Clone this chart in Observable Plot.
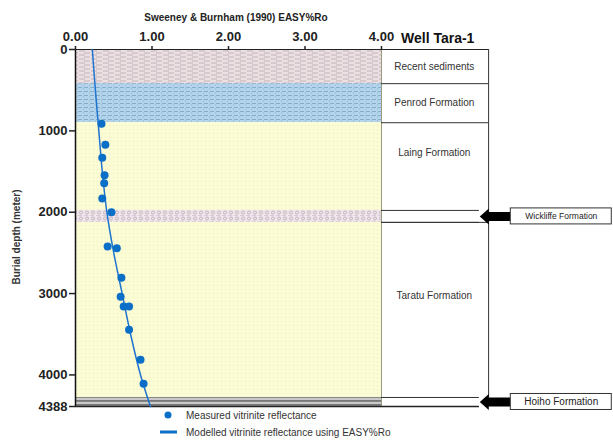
<!DOCTYPE html>
<html>
<head>
<meta charset="utf-8">
<script src="https://cdn.jsdelivr.net/npm/d3@7"></script>
<script src="https://cdn.jsdelivr.net/npm/@observablehq/plot@0.6"></script>
<style>
  body { margin: 0; background: #fff; font-family: "Liberation Sans", Arial, sans-serif; }
  #chart { width: 613px; height: 442px; }
</style>
</head>
<body>
<div id="chart"></div>
<script>
// ---- data ----
const reflectanceTicks = [0, 1, 2, 3, 4];
const depthTicks = [0, 1000, 2000, 3000, 4000, 4388];

const measuredRo    = [0.34, 0.39, 0.35, 0.38, 0.375, 0.35, 0.47, 0.42, 0.54, 0.60, 0.59, 0.63, 0.70, 0.70, 0.85, 0.89];
const measuredDepth = [913, 1171, 1331, 1545, 1643, 1831, 2000, 2421, 2442, 2806, 3040, 3159, 3159, 3445, 3814, 4109];

const modelRo    = [0.22, 0.26, 0.305, 0.35, 0.41, 0.50, 0.61, 0.72, 0.85, 0.98];
const modelDepth = [0, 500, 1000, 1500, 2000, 2500, 3000, 3500, 4000, 4388];

const formationNames = ["Recent sediments", "Penrod Formation", "Laing Formation", "Wickliffe Formation", "Taratu Formation", "Hoiho Formation"];
const formationTop   = [0, 420, 900, 1978, 2125, 4277];
const formationBase  = [420, 900, 1978, 2125, 4277, 4388];
const formationLith  = ["recent", "penrod", "sand", "wickliffe", "sand", "hoiho"];
const formationCallout = [false, false, false, true, false, true];

// ---- tables built from the arrays ----
const measured = measuredRo.map((ro, i) => ({ro, depth: measuredDepth[i]}));
const model = modelRo.map((ro, i) => ({ro, depth: modelDepth[i]}));
const labelFrac = {"Laing Formation": 0.34, "Taratu Formation": 0.42};
const formations = formationNames.map((name, i) => ({
  name, top: formationTop[i], base: formationBase[i], lith: formationLith[i],
  callout: formationCallout[i],
  mid: (formationTop[i] + formationBase[i]) / 2,
  labelDepth: formationTop[i] + (formationBase[i] - formationTop[i]) * (labelFrac[name] ?? 0.5)
}));
const columnFormations = formations.filter(d => !d.callout);
const calloutFormations = formations.filter(d => d.callout);

// ---- layout (in x-axis units, right of the %Ro domain) ----
const COL_LABEL_X = 4.69, COL_RIGHT = 5.40, ARROW_TIP = 5.28, BOX_L = 5.69, BOX_R = 7.01;

const blockArrow = {
  draw(context, l) {
    const hw = 8, sw = 4.5, hl = 9;
    context.moveTo(-sw, 0);
    context.lineTo(-sw, -(l - hl));
    context.lineTo(-hw, -(l - hl));
    context.lineTo(0, -l);
    context.lineTo(hw, -(l - hl));
    context.lineTo(sw, -(l - hl));
    context.lineTo(sw, 0);
    context.closePath();
  }
};

const plot = Plot.plot({
  width: 613,
  height: 442,
  marginTop: 49, marginLeft: 75, marginRight: 232, marginBottom: 36,
  style: {fontFamily: "'Liberation Sans', Arial, sans-serif", background: "white", color: "#222"},
  x: {domain: [0, 4], range: [75, 381]},
  y: {domain: [0, 4388], range: [49, 406]},
  color: {type: "identity"},
  marks: [
    // lithology bands in the plot area
    Plot.rect(formations, {x1: 0, x2: 4, y1: "top", y2: "base", fill: d => `url(#pat-${d.lith})`}),
    Plot.ruleX([4], {y1: 0, y2: 4388, stroke: "#9a9a80", strokeWidth: 1}),
    // formation column
    Plot.ruleY(columnFormations, {y: "top", x1: 4, x2: COL_RIGHT, stroke: "#333", strokeWidth: 1}),
    Plot.ruleY(calloutFormations, {y: "top", x1: 4, x2: ARROW_TIP, stroke: "#333", strokeWidth: 1}),
    Plot.ruleY(calloutFormations, {y: "base", x1: 4, x2: ARROW_TIP, stroke: "#333", strokeWidth: 1}),
    Plot.ruleX([COL_RIGHT], {y1: 0, y2: formationTop[5], stroke: "#333", strokeWidth: 1}),
    Plot.text(columnFormations, {x: COL_LABEL_X, y: "labelDepth", text: "name", fontSize: 10, fill: "#333"}),
    // callout arrows and boxes
    Plot.vector(calloutFormations, {x: BOX_L, y: "mid", rotate: 270, length: 31, anchor: "start", shape: blockArrow, fill: "black", stroke: "none"}),
    Plot.rect(calloutFormations, {x1: BOX_L, x2: BOX_R, y1: "mid", y2: "mid", insetTop: -8, insetBottom: -8, fill: "white", stroke: "#333", strokeWidth: 1}),
    Plot.text(calloutFormations, {x: (BOX_L + BOX_R) / 2, y: "mid", text: "name", fontSize: d => d.name.startsWith("Hoiho") ? 10 : 8.5, fill: "#222"}),
    // frame lines
    Plot.ruleY([0], {x1: 0, x2: COL_RIGHT, stroke: "#222", strokeWidth: 1.2}),
    Plot.ruleY([4388], {x1: 0, x2: ARROW_TIP, stroke: "#222", strokeWidth: 1.5}),
    Plot.ruleX([0], {y1: 0, y2: 4388, stroke: "#111", strokeWidth: 1.5}),
    // axes
    Plot.axisX({anchor: "top", ticks: reflectanceTicks, tickFormat: d => d.toFixed(2), tickSize: 4, tickPadding: 5, fontSize: 13, fontWeight: "bold", label: null, strokeWidth: 1.5}),
    Plot.axisY({anchor: "left", ticks: depthTicks, tickFormat: d => String(d), tickSize: 6, tickPadding: 2, fontSize: 13, fontWeight: "bold", label: null, strokeWidth: 1.5}),
    // model and measurements
    Plot.line(model, {x: "ro", y: "depth", stroke: "#1f74cf", strokeWidth: 1.5, curve: "catmull-rom"}),
    Plot.dot(measured, {x: "ro", y: "depth", r: 4, fill: "#0b6fc7", stroke: "none"})
  ]
});

// ---- patterns ----
const svg = d3.select(plot);
const defs = svg.insert("defs", ":first-child");
function pattern(id, w, h, build) {
  const p = defs.append("pattern").attr("id", id).attr("width", w).attr("height", h).attr("patternUnits", "userSpaceOnUse");
  build(p);
}
pattern("pat-recent", 12, 4, p => {
  p.append("rect").attr("width", 12).attr("height", 4).attr("fill", "#eae0e2");
  p.append("path").attr("d", "M0 1h6M7 3h5M0 3h1").attr("stroke", "#c5b3b8").attr("stroke-width", 1.1);
});
pattern("pat-penrod", 6, 4, p => {
  p.append("rect").attr("width", 6).attr("height", 4).attr("fill", "#b3d4ea");
  p.append("path").attr("d", "M0 3.5h4").attr("stroke", "#86aecb").attr("stroke-width", 1);
  p.append("path").attr("d", "M5.5 0v2").attr("stroke", "#9bbfd8").attr("stroke-width", 0.8);
});
pattern("pat-sand", 4, 4, p => {
  p.append("rect").attr("width", 4).attr("height", 4).attr("fill", "#fbfbd4");
  p.append("rect").attr("x", 1).attr("y", 1).attr("width", 1).attr("height", 1).attr("fill", "#ecebc0");
});
pattern("pat-wickliffe", 6, 6, p => {
  p.append("rect").attr("width", 6).attr("height", 6).attr("fill", "#eee5ea");
  p.append("circle").attr("cx", 3).attr("cy", 2.5).attr("r", 1.5).attr("fill", "none").attr("stroke", "#b5a1ad").attr("stroke-width", 0.7);
  p.append("path").attr("d", "M0 5.5h4").attr("stroke", "#d3c2cb").attr("stroke-width", 0.8);
});
pattern("pat-hoiho", 4, 4, p => {
  p.append("rect").attr("width", 4).attr("height", 4).attr("fill", "#c9c9c9");
  p.append("rect").attr("width", 4).attr("height", 1.8).attr("fill", "#777");
});

// ---- titles, axis title, legend ----
const F = "'Liberation Sans', Arial, sans-serif";
svg.append("text").attr("x", 236).attr("y", 21).attr("text-anchor", "middle")
  .attr("font-family", F).attr("font-size", 10).attr("font-weight", "bold").attr("fill", "#222")
  .text("Sweeney & Burnham (1990) EASY%Ro");
svg.append("text").attr("x", 401).attr("y", 43).attr("text-anchor", "start")
  .attr("font-family", F).attr("font-size", 14).attr("font-weight", "bold").attr("fill", "#111")
  .text("Well Tara-1");
svg.append("text").attr("transform", "translate(20,237) rotate(-90)").attr("text-anchor", "middle")
  .attr("font-family", F).attr("font-size", 10).attr("font-weight", "bold").attr("fill", "#333")
  .text("Burial depth (meter)");
const lg = svg.append("g").attr("font-family", F).attr("font-size", 10).attr("fill", "#333").attr("text-anchor", "start");
lg.append("circle").attr("cx", 168).attr("cy", 415).attr("r", 3.5).attr("fill", "#0b6fc7");
lg.append("text").attr("x", 186).attr("y", 415).attr("dy", "0.35em").text("Measured vitrinite reflectance");
lg.append("line").attr("x1", 160).attr("x2", 177).attr("y1", 432).attr("y2", 432).attr("stroke", "#0b6fc7").attr("stroke-width", 3);
lg.append("text").attr("x", 186).attr("y", 432).attr("dy", "0.35em").text("Modelled vitrinite reflectance using EASY%Ro");

document.getElementById("chart").appendChild(plot);
</script>
</body>
</html>
